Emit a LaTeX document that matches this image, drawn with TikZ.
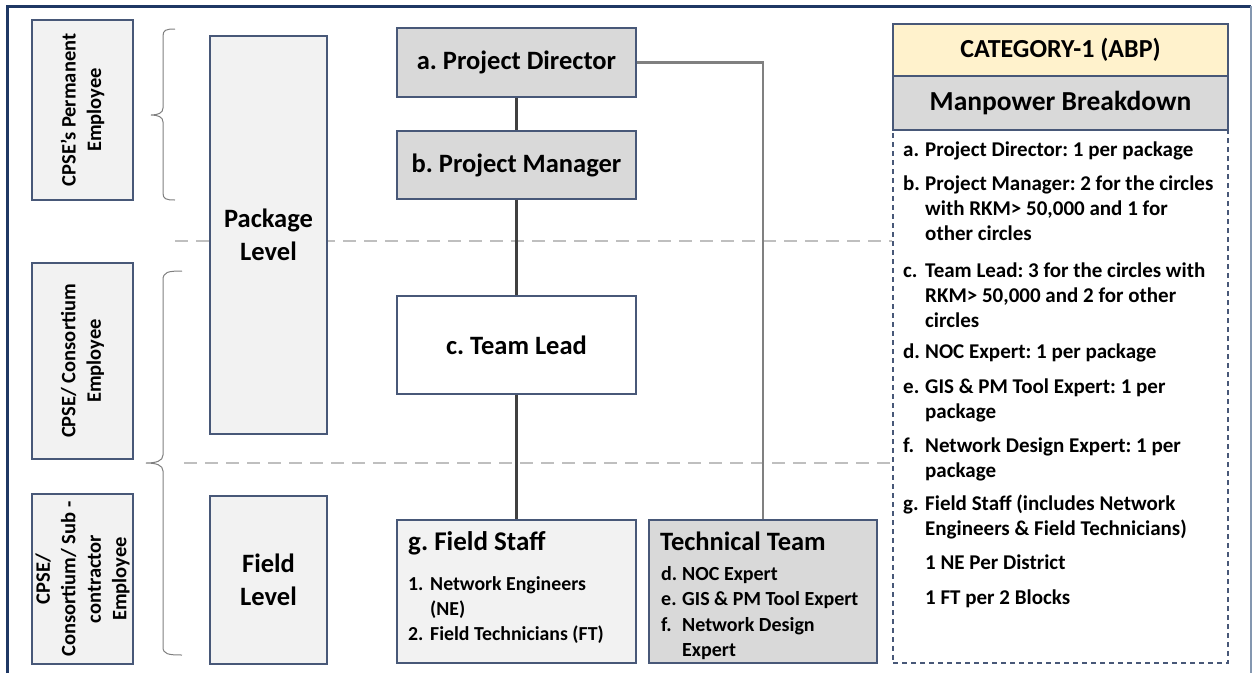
\documentclass[tikz,border=0pt]{standalone}
\usepackage{fontspec}
\setmainfont{Carlito}
\usetikzlibrary{backgrounds}
\frenchspacing

\definecolor{boxline}{RGB}{72,88,120}
\definecolor{lightfill}{HTML}{F2F2F2}
\definecolor{darkfill}{HTML}{D9D9D9}
\definecolor{catfill}{HTML}{FFF2CC}
\definecolor{framenavy}{HTML}{1F3864}
\definecolor{frameside}{HTML}{8497B0}
\definecolor{linedark}{HTML}{404040}
\definecolor{linegray}{HTML}{808080}
\definecolor{dashgray}{HTML}{BFBFBF}
\definecolor{bracegray}{HTML}{7F7F7F}

\newcommand{\setfsz}[2]{\fontsize{#1}{#2}\selectfont}
% fixed-width label cell for numbered entries
\newcommand{\lbl}[2]{\makebox[#1][l]{#2}}

\begin{document}
\begin{tikzpicture}[x=1pt,y=-1pt,
  font=\bfseries,
  box/.style={draw=boxline, line width=1.3pt, inner sep=0pt, align=center},
  lightbox/.style={box, fill=lightfill},
  darkbox/.style={box, fill=darkfill},
  whitebox/.style={box, fill=white},
  sidebox/.style={lightbox, rotate=90, font=\bfseries\setfsz{20.5}{25.5}},
  levelbox/.style={lightbox, font=\bfseries\setfsz{26.5}{33}},
  rolebox/.style={font=\bfseries\setfsz{26.5}{31}},
  listtext/.style={anchor=base west, inner sep=0pt, align=left},
  connector/.style={draw=linedark, line width=2.2pt},
  techlink/.style={draw=linegray, line width=2.2pt},
  divider/.style={draw=dashgray, line width=2pt, dash pattern=on 13pt off 8pt},
  bracestyle/.style={draw=bracegray, line width=1pt},
]
\useasboundingbox (0,0) rectangle (1253,673);

% outer frame
\draw[framenavy, line width=3pt] (7,673) -- (7,6) -- (1251,6);
\draw[frameside, line width=1.2pt] (1251,6) -- (1251,673);

% employee categories (rotated labels)
\node[sidebox, minimum width=180pt, minimum height=101pt] (emp1) at (82.5,110) {CPSE’s Permanent\\Employee};
\node[sidebox, minimum width=196pt, minimum height=101pt] (emp2) at (82.5,361) {CPSE/ Consortium\\Employee};
\node[sidebox, minimum width=170pt, minimum height=101pt] (emp3) at (82.5,579) {CPSE/\\Consortium/ Sub -\\contractor\\Employee};

% braces grouping the categories
\draw[bracestyle] (175,29) .. controls (166,29) and (163,30) .. (163,36) -- (163,108)
  .. controls (163,113) and (158,115) .. (151,115)
  .. controls (158,115) and (163,117) .. (163,122) -- (163,193)
  .. controls (163,199) and (166,200) .. (175,200);
\draw[bracestyle] (182,271) .. controls (168,271) and (163,272) .. (163,280) -- (163,455)
  .. controls (163,461) and (156,463) .. (146,463)
  .. controls (156,463) and (163,465) .. (163,471) -- (163,647)
  .. controls (163,654) and (168,655) .. (182,655);

% levels
\node[levelbox, minimum width=117pt, minimum height=398pt] (pkg) at (268.5,235) {Package\\Level};
\node[levelbox, minimum width=117pt, minimum height=168pt] (fld) at (268.5,580) {Field\\Level};

% hierarchy
\node[darkbox, rolebox, minimum width=239pt, minimum height=69pt] (pd) at (516.5,62.5) {a. Project Director};
\node[darkbox, rolebox, minimum width=239pt, minimum height=68pt] (pm) at (516.5,165) {b. Project Manager};
\node[whitebox, rolebox, minimum width=239pt, minimum height=98pt] (tl) at (516.5,345) {c. Team Lead};
\node[lightbox, minimum width=239pt, minimum height=143pt] (fs) at (516.5,591.5) {};
\node[darkbox, minimum width=228pt, minimum height=143pt] (tt) at (763,591.5) {};

% field staff contents
\node[listtext, font=\bfseries\setfsz{27}{31}] (fstitle) at (408,550) {g. Field Staff};
\node[listtext, font=\bfseries\setfsz{19.8}{25}] (fslist) at (408,590) {%
  \begin{tabular}[t]{@{}l@{}l@{}}
  \lbl{22pt}{1.}&Network Engineers\\
  &(NE)\\
  \lbl{22pt}{2.}&Field Technicians (FT)
  \end{tabular}};

% technical team contents
\node[listtext, font=\bfseries\setfsz{26.5}{31}] (tttitle) at (660,550) {Technical Team};
\node[listtext, font=\bfseries\setfsz{20}{25.5}] (ttlist) at (661,580) {%
  \begin{tabular}[t]{@{}l@{}l@{}}
  \lbl{21pt}{d.}&NOC Expert\\
  \lbl{21pt}{e.}&GIS \& PM Tool Expert\\
  \lbl{21pt}{f.}&Network Design\\
  &Expert
  \end{tabular}};

% manpower breakdown panel
\node[box, fill=catfill, font=\bfseries\setfsz{26}{30}, minimum width=335pt, minimum height=52pt] (cat) at (1060.5,50) {CATEGORY-1 (ABP)};
\node[darkbox, font=\bfseries\setfsz{27.5}{32}, minimum width=335pt, minimum height=54pt] (mp) at (1060.5,103) {Manpower Breakdown};
\node[draw=boxline, line width=1.3pt, dash pattern=on 5pt off 4pt, minimum width=335pt, minimum height=533pt, inner sep=0pt] (bd) at (1060.5,396.5) {};

\tikzset{bditem/.style={listtext, font=\bfseries\setfsz{21}{25}}}
\node[bditem] (ia) at (903,156) {\begin{tabular}[t]{@{}l@{}l@{}}\lbl{22pt}{a.}&Project Director: 1 per package\end{tabular}};
\node[bditem] (ib) at (903,190) {\begin{tabular}[t]{@{}l@{}l@{}}\lbl{22pt}{b.}&Project Manager: 2 for the circles\\&with RKM> 50,000 and 1 for\\&other circles\end{tabular}};
\node[bditem] (ic) at (903,277) {\begin{tabular}[t]{@{}l@{}l@{}}\lbl{22pt}{c.}&Team Lead: 3 for the circles with\\&RKM> 50,000 and 2 for other\\&circles\end{tabular}};
\node[bditem] (id) at (903,358) {\begin{tabular}[t]{@{}l@{}l@{}}\lbl{22pt}{d.}&NOC Expert: 1 per package\end{tabular}};
\node[bditem] (ie) at (903,393) {\begin{tabular}[t]{@{}l@{}l@{}}\lbl{22pt}{e.}&GIS \& PM Tool Expert: 1 per\\&package\end{tabular}};
\node[bditem] (if) at (903,452) {\begin{tabular}[t]{@{}l@{}l@{}}\lbl{22pt}{f.}&Network Design Expert: 1 per\\&package\end{tabular}};
\node[bditem] (ig) at (903,510) {\begin{tabular}[t]{@{}l@{}l@{}}\lbl{22pt}{g.}&Field Staff (includes Network\\&Engineers \& Field Technicians)\end{tabular}};
\node[bditem] (ine) at (925,569) {1 NE Per District};
\node[bditem] (ift) at (925,604) {1 FT per 2 Blocks};

% reporting lines
\draw[connector] (pd.south) -- (pm.north);
\draw[connector] (pm.south) -- (tl.north);
\draw[connector] (tl.south) -- (fs.north);
\draw[techlink] (pd.east) -| (tt.north);

% level dividers, behind the boxes
\coordinate (div1) at (175,241);
\coordinate (div2) at (184,463);
\begin{pgfonlayer}{background}
  \draw[divider] (div1) -- (div1 -| bd.west);
  \draw[divider] (div2) -- (div2 -| bd.west);
\end{pgfonlayer}
\end{tikzpicture}
\end{document}
